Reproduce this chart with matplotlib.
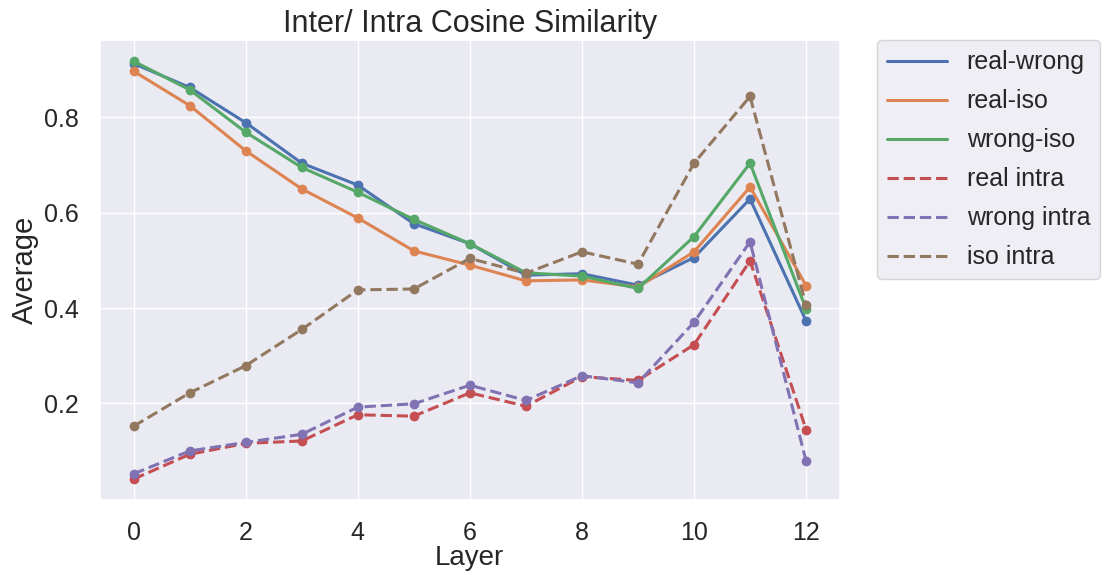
import numpy as np
import matplotlib
matplotlib.use("Agg")
import matplotlib.pyplot as plt
import seaborn as sns

sns.set_theme(style="darkgrid", font_scale=1.5)
plt.rcParams['font.family'] = ['Liberation Sans', 'DejaVu Sans']

layers = list(range(13))

# inter-group similarity
real_wrong = [0.913, 0.863, 0.789, 0.704, 0.658, 0.577, 0.535, 0.469, 0.472, 0.448, 0.506, 0.629, 0.373]
real_iso = [0.897, 0.825, 0.730, 0.650, 0.589, 0.520, 0.490, 0.457, 0.459, 0.444, 0.518, 0.654, 0.447]
wrong_iso = [0.918, 0.858, 0.769, 0.695, 0.643, 0.586, 0.535, 0.474, 0.467, 0.441, 0.550, 0.704, 0.398]

# intra-group similarity
real_intra = [0.041, 0.093, 0.116, 0.121, 0.176, 0.173, 0.222, 0.194, 0.256, 0.248, 0.323, 0.499, 0.145]
wrong_intra = [0.052, 0.100, 0.118, 0.135, 0.192, 0.199, 0.238, 0.206, 0.258, 0.243, 0.370, 0.539, 0.079]
iso_intra = [0.152, 0.222, 0.279, 0.355, 0.438, 0.440, 0.504, 0.473, 0.518, 0.492, 0.704, 0.844, 0.406]

series = [
    ("real-wrong", real_wrong, "-"),
    ("real-iso", real_iso, "-"),
    ("wrong-iso", wrong_iso, "-"),
    ("real intra", real_intra, "--"),
    ("wrong intra", wrong_intra, "--"),
    ("iso intra", iso_intra, "--"),
]

colors = sns.color_palette("deep")

fig = plt.figure(figsize=(11.04, 5.76), dpi=100)
ax = fig.add_axes([0.0906, 0.132, 0.670, 0.798])

for i, (name, vals, ls) in enumerate(series):
    ax.plot(layers, vals, ls, color=colors[i], linewidth=2.2, label=name)
    ax.plot(layers, vals, "o", color=colors[i], markersize=6)

ax.set_title("Inter/ Intra Cosine Similarity", fontsize=22, pad=6)
ax.set_xlabel("Layer", fontsize=20, labelpad=0)
ax.set_ylabel("Average", fontsize=21, labelpad=4)
ax.set_xticks([0, 2, 4, 6, 8, 10, 12])
ax.set_yticks([0.2, 0.4, 0.6, 0.8])
ax.tick_params(labelsize=18, pad=9)

# only the line handles go in the legend
handles, labels = ax.get_legend_handles_labels()
ax.legend(handles, labels, bbox_to_anchor=(1.05, 1.0), loc="upper left",
          borderaxespad=0, fontsize=18, handlelength=2.4, labelspacing=0.6)

fig.savefig("out.png", dpi=100)
